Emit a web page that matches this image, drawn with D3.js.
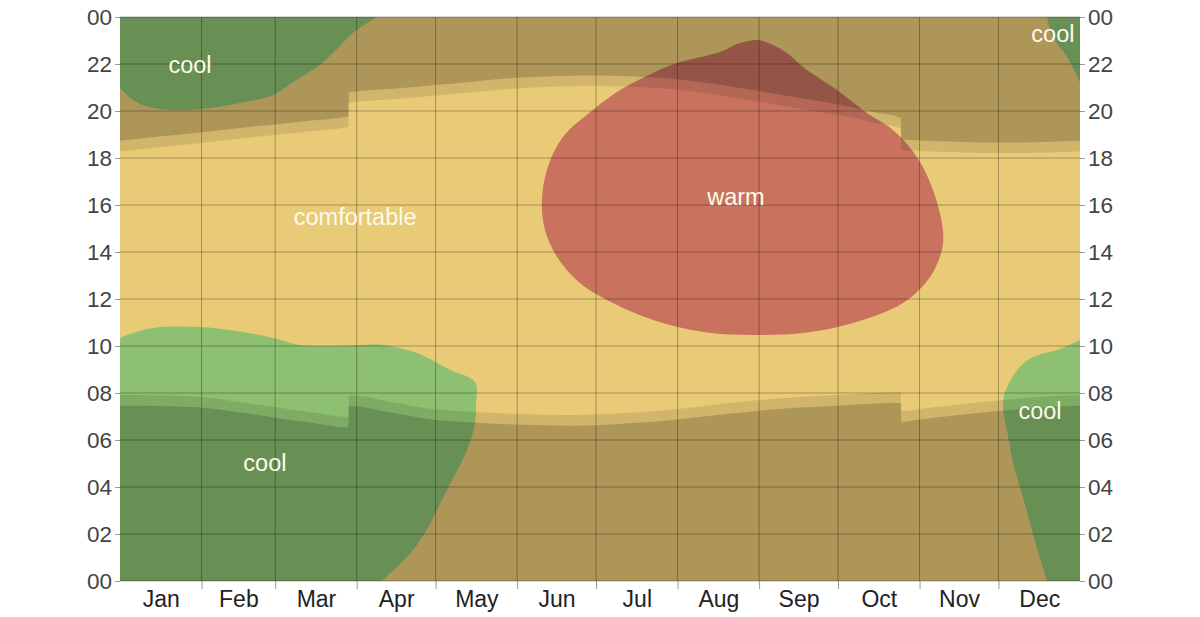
<!DOCTYPE html>
<html>
<head>
<meta charset="utf-8">
<script src="https://cdn.jsdelivr.net/npm/d3@7"></script>
<style>
body { margin: 0; background: #fff; }
svg { display: block; font-family: "Liberation Sans", Arial, sans-serif; }
</style>
</head>
<body>
<svg id="chart" width="1200" height="617"></svg>
<script>
// month labels and hour ticks
var months = ["Jan", "Feb", "Mar", "Apr", "May", "Jun", "Jul", "Aug", "Sep", "Oct", "Nov", "Dec"];
var hourTicks = d3.range(0, 25, 2);

// sun: day of year -> clock time (DST jumps on Mar 29 and Oct 25)
var sunDays = [0, 14, 31, 45, 59, 73, 86.9, 87, 104, 120, 134, 151, 171, 181, 195, 212, 226, 243, 257, 273, 287, 296.9, 297, 304, 318, 334, 348, 365];
var sunrise = [7.91, 7.9, 7.83, 7.63, 7.4, 7.18, 6.98, 7.9, 7.6, 7.3, 7.2, 7.11, 7.06, 7.08, 7.17, 7.32, 7.5, 7.7, 7.82, 7.91, 8.0, 8.02, 7.22, 7.32, 7.5, 7.68, 7.82, 7.91];
var sunset  = [18.28, 18.45, 18.64, 18.82, 18.98, 19.15, 19.32, 20.35, 20.5, 20.66, 20.8, 20.96, 21.05, 21.06, 21.02, 20.9, 20.7, 20.4, 20.13, 19.83, 19.5, 19.25, 18.35, 18.3, 18.24, 18.2, 18.22, 18.28];
var twilight = 0.45;

// temperature bands: [day of year, hour] outlines
var coolTopLeft = [[0, 20.98], [4.9, 20.47], [12.5, 20.13], [24, 20.04], [34.2, 20.13], [45.6, 20.34], [58.2, 20.68], [65.8, 21.23], [74.9, 21.87], [81, 22.47], [88.6, 23.32], [97.7, 24]];
var coolBottomLeft = [[0, 10.34], [4.9, 10.55], [12.5, 10.77], [30.4, 10.81], [46.8, 10.6], [58.2, 10.34], [68.4, 10.04], [81, 10], [91.3, 10.04], [100, 10.04], [112.9, 9.7], [125.5, 8.98], [135, 8.47], [135.4, 7.6], [134.8, 6.6], [132, 5.6], [128.2, 4.7], [124.2, 3.85], [120.5, 3.0], [116.6, 2.17], [112, 1.4], [107, 0.8], [99.6, 0]];
var coolRight = [[365, 10.26], [356.3, 9.83], [347.1, 9.53], [342.2, 9.11], [337.3, 8.26], [335.7, 7.57], [337.6, 6.2], [339.6, 5.0], [342.4, 3.9], [345.2, 2.8], [347.6, 1.8], [350, 0.9], [352.5, 0]];
var coolTopRight = [[352.5, 24], [354.7, 23.15], [360.1, 22.3], [365, 21.23]];
var warm = [[242.6, 23.02], [235.7, 22.89], [228.1, 22.51], [211.8, 22.04], [202.7, 21.62], [190.1, 20.89], [179.8, 20.04], [168.4, 18.89], [162.3, 17.49], [160.4, 16.09], [161.6, 14.94], [166.2, 13.79], [174.9, 12.68], [187.4, 11.83], [202.7, 11.11], [221.7, 10.6], [240.7, 10.47], [259.7, 10.55], [278.7, 10.98], [297.7, 11.83], [308, 12.94], [312.5, 14.09], [312.9, 14.94], [309.1, 16.64], [303, 18.04], [293.9, 19.19], [284, 19.91], [272.6, 20.89], [259.7, 21.87], [253.6, 22.47], [248.3, 22.81]];

// labels
var labelText = ["cool", "comfortable", "warm", "cool", "cool", "cool"];
var labelDay  = [26.6, 89.4, 234.2, 55.1, 354.7, 349.8];
var labelHour = [21.96, 15.49, 16.34, 5.02, 23.28, 7.23];

var margin = {top: 17, right: 120, bottom: 36, left: 120};
var width = 1200 - margin.left - margin.right;
var height = 617 - margin.top - margin.bottom;

var year0 = Date.UTC(2021, 0, 1);
function dayDate(d) { return new Date(year0 + d * 864e5); }

var x = d3.scaleUtc().domain([dayDate(0), dayDate(365)]).range([0, width]);
var y = d3.scaleLinear().domain([0, 24]).range([height, 0]);
var xd = function(d) { return x(dayDate(d)); };

var svg = d3.select("#chart");
var g = svg.append("g").attr("transform", "translate(" + margin.left + "," + margin.top + ")");

g.append("clipPath").attr("id", "plot")
  .append("rect").attr("width", width).attr("height", height);

var plot = g.append("g").attr("clip-path", "url(#plot)");

// comfortable background
plot.append("rect").attr("width", width).attr("height", height).attr("fill", "#e9ca76");

var edge = d3.line().x(function(p) { return xd(p[0]); }).y(function(p) { return y(p[1]); })
  .curve(d3.curveCatmullRom.alpha(0.5));

function region(outline, corners) {
  return edge(outline) + corners.map(function(c) { return "L" + xd(c[0]) + "," + y(c[1]); }).join("") + "Z";
}

plot.append("path").attr("fill", "#8dc071").attr("d", region(coolTopLeft, [[0, 24]]));
plot.append("path").attr("fill", "#8dc071").attr("d", region(coolBottomLeft, [[0, 0]]));
plot.append("path").attr("fill", "#8dc071").attr("d", region(coolRight, [[365, 0]]));
plot.append("path").attr("fill", "#8dc071").attr("d", region(coolTopRight, [[365, 24]]));

plot.append("path").attr("fill", "#c9735f")
  .attr("d", d3.line().x(function(p) { return xd(p[0]); }).y(function(p) { return y(p[1]); })
    .curve(d3.curveCatmullRomClosed.alpha(0.5))(warm));

// night shading: twilight band + full night
var sun = sunDays.map(function(d, i) { return {day: d, rise: sunrise[i], set: sunset[i]}; });

function shade(offset, opacity) {
  var morning = d3.area().curve(d3.curveMonotoneX)
    .x(function(d) { return xd(d.day); })
    .y0(y(0))
    .y1(function(d) { return y(d.rise - offset); });
  var evening = d3.area().curve(d3.curveMonotoneX)
    .x(function(d) { return xd(d.day); })
    .y0(function(d) { return y(d.set + offset); })
    .y1(y(24));
  plot.append("path").attr("d", morning(sun)).attr("fill", "#000").attr("fill-opacity", opacity);
  plot.append("path").attr("d", evening(sun)).attr("fill", "#000").attr("fill-opacity", opacity);
}
shade(0, 0.1);
shade(twilight, 0.17);

// grid
var monthStarts = d3.utcMonth.range(dayDate(0), dayDate(365));
g.append("g").selectAll("line").data(hourTicks).join("line")
  .attr("x1", 0).attr("x2", width)
  .attr("y1", function(d) { return y(d); }).attr("y2", function(d) { return y(d); })
  .attr("stroke", "#000").attr("stroke-opacity", 0.3);
g.append("g").selectAll("line").data(monthStarts.slice(1)).join("line")
  .attr("x1", function(d) { return x(d); }).attr("x2", function(d) { return x(d); })
  .attr("y1", 0).attr("y2", height)
  .attr("stroke", "#000").attr("stroke-opacity", 0.3);

// region labels
g.append("g").selectAll("text").data(labelText).join("text")
  .attr("x", function(d, i) { return xd(labelDay[i]); })
  .attr("y", function(d, i) { return y(labelHour[i]); })
  .attr("text-anchor", "middle")
  .attr("dominant-baseline", "central")
  .attr("font-size", 23.5)
  .attr("fill", "#fbfbea")
  .text(function(d) { return d; });

// axes
var fmt = function(d) { return d3.format("02")(d % 24); };
var left = g.append("g").call(d3.axisLeft(y).tickValues(hourTicks).tickFormat(fmt).tickSize(5).tickPadding(3));
var right = g.append("g").attr("transform", "translate(" + width + ",0)")
  .call(d3.axisRight(y).tickValues(hourTicks).tickFormat(fmt).tickSize(5).tickPadding(3));
var ticks = g.append("g").attr("transform", "translate(0," + height + ")")
  .call(d3.axisBottom(x).tickValues(monthStarts.slice(1)).tickFormat("").tickSize(8));
var monthMids = monthStarts.map(function(d) { return new Date(+d + (+d3.utcMonth.offset(d, 1) - d) / 2); });
var labels = g.append("g").attr("transform", "translate(0," + height + ")")
  .call(d3.axisBottom(x).tickValues(monthMids).tickFormat(function(d, i) { return months[i]; }).tickSize(0).tickPadding(10));

[left, right, ticks, labels].forEach(function(a) {
  a.select(".domain").remove();
  a.selectAll(".tick line").attr("stroke", "#999");
  a.selectAll("text").attr("font-family", "Liberation Sans, Arial, sans-serif");
});
left.selectAll("text").attr("fill", "#444").attr("font-size", 22.5);
right.selectAll("text").attr("fill", "#444").attr("font-size", 22.5);
labels.selectAll("text").attr("fill", "#222").attr("font-size", 23);
</script>
</body>
</html>
